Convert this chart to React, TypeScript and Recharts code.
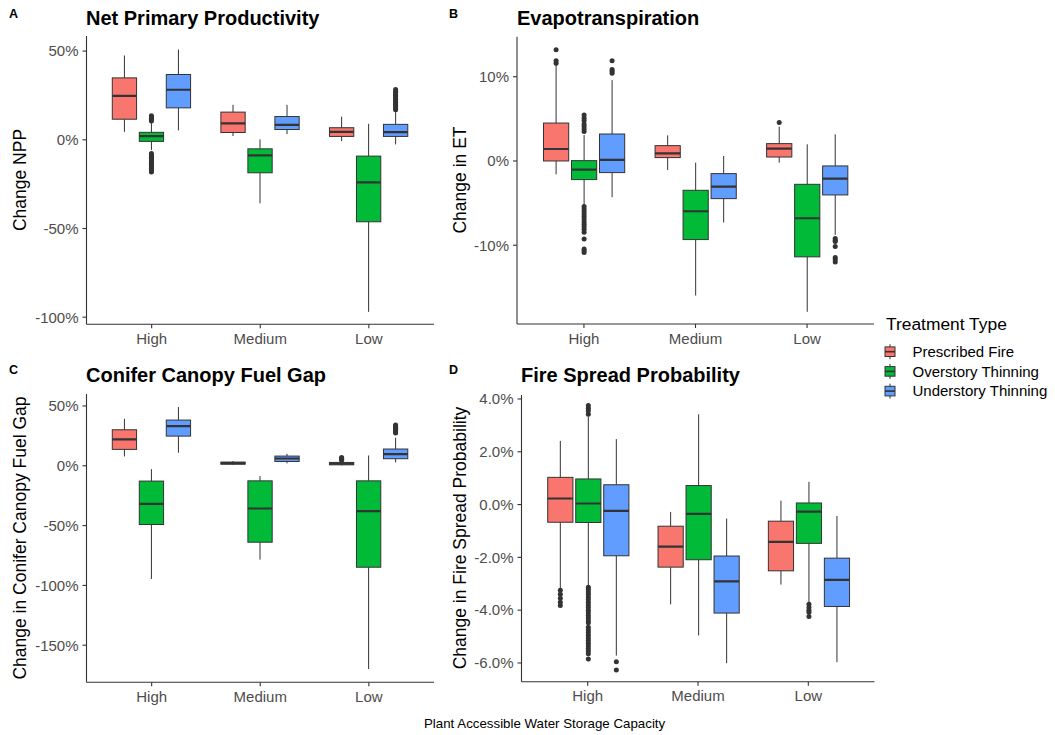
import React from 'react';
import { ComposedChart, Bar, XAxis, YAxis } from 'recharts';

const categories = ['High', 'Medium', 'Low'];
const treatments = ['Prescribed Fire', 'Overstory Thinning', 'Understory Thinning'];
const treatmentColors = ['#F8766D', '#00BA38', '#619CFF'];

// Five-number summaries per category (High, Medium, Low):
// [lower whisker, Q1, median, Q3, upper whisker], in percent change.

// Net Primary Productivity
const nppFire = [[4.5, 11.6, 24.8, 34.9, 47.5], [2.1, 4.1, 9.2, 15.6, 19.7], [-0.75, 1.9, 4.5, 6.8, 13.0]];
const nppOver = [[-5.8, -0.9, 2.1, 4.2, 9.8], [-35.8, -18.6, -8.8, -5.1, 0.2], [-97.0, -46.2, -24.0, -9.2, 9.0]];
const nppUnder = [[5.3, 18.0, 28.2, 36.8, 50.9], [3.2, 5.8, 8.4, 13.1, 19.7], [-2.6, 1.9, 4.3, 8.7, 16.0]];
const nppFireOut = [[], [], []];
const nppOverOut = [
  [10.6, 11.4, 12.2, 13.0, 13.6, -7.7, -8.4, -9.1, -9.8, -10.5, -11.2, -11.9, -12.6, -13.3, -14.0, -14.7, -15.4, -16.1, -16.8, -17.5, -18.1],
  [],
  [],
];
const nppUnderOut = [
  [],
  [],
  [17.0, 17.8, 18.6, 19.4, 20.2, 21.0, 21.8, 22.6, 23.4, 24.2, 25.0, 25.8, 26.6, 27.4, 28.3],
];

// Evapotranspiration
const etFire = [[-1.58, 0.0, 1.42, 4.5, 11.4], [-1.07, 0.4, 0.91, 1.82, 3.04], [-0.2, 0.47, 1.46, 2.06, 4.07]];
const etOver = [[-5.2, -2.21, -1.03, 0.04, 3.08], [-15.97, -9.33, -5.97, -3.48, -0.2], [-17.9, -11.38, -6.8, -2.77, 1.98]];
const etUnder = [[-4.3, -1.38, 0.12, 3.2, 9.6], [-7.31, -4.47, -3.04, -1.5, 0.59], [-8.77, -4.03, -2.09, -0.59, 3.16]];
const etFireOut = [[11.6, 11.9, 13.2], [], [4.58]];
const etOverOut = [
  [3.5, 3.8, 4.1, 4.4, 4.8, 5.1, 5.45, -5.4, -5.7, -6.0, -6.3, -6.6, -6.9, -7.2, -7.5, -7.8, -8.1, -8.45, -9.25, -10.45, -10.65, -10.85],
  [],
  [],
];
const etUnderOut = [[10.4, 10.65, 10.85, 11.9], [], [-9.2, -9.4, -9.57, -10.16, -11.46, -11.7, -12.0]];

// Conifer Canopy Fuel Gap
const gapFire = [[7.8, 13.7, 22.0, 30.1, 39.3], [0.6, 1.3, 2.2, 3.1, 4.0], [0.3, 0.8, 1.7, 2.8, 4.0]];
const gapOver = [[-94.6, -49.1, -31.8, -12.8, -2.8], [-78.4, -63.9, -35.7, -12.6, -8.6], [-169.9, -84.8, -37.9, -12.6, 8.6]];
const gapUnder = [[10.9, 24.8, 33.2, 38.2, 49.1], [2.0, 3.6, 6.1, 8.1, 10.0], [2.8, 5.9, 9.8, 14.0, 23.5]];
const gapFireOut = [[], [], [4.6, 5.4, 6.2, 6.9]];
const gapOverOut = [[], [], []];
const gapUnderOut = [[], [], [27.3, 28.3, 29.3, 30.3, 31.3, 32.3, 33.3, 34.0]];

// Fire Spread Probability
const fspFire = [[-3.19, -0.67, 0.23, 1.03, 2.41], [-3.78, -2.37, -1.59, -0.82, -0.28], [-3.03, -2.51, -1.41, -0.63, 0.15]];
const fspOver = [[-3.06, -0.68, 0.04, 0.97, 3.33], [-4.96, -2.09, -0.35, 0.72, 3.42], [-3.7, -1.47, -0.27, 0.06, 0.86]];
const fspUnder = [[-5.72, -1.94, -0.24, 0.75, 2.48], [-6.01, -4.11, -2.91, -1.95, -0.53], [-5.97, -3.86, -2.85, -2.03, -0.43]];
const fspFireOut = [[-3.25, -3.4, -3.55, -3.7, -3.82], [], []];
const fspOverOut = [
  [3.42, 3.55, 3.65, 3.75, -3.13, -3.22, -3.31, -3.4, -3.5, -3.6, -3.7, -3.8, -3.9, -4.0, -4.1, -4.2, -4.3, -4.4, -4.48, -4.65, -4.75, -4.85, -4.95, -5.05, -5.15, -5.25, -5.35, -5.45, -5.55, -5.65, -5.85],
  [],
  [-3.78, -3.9, -4.0, -4.08, -4.24],
];
const fspUnderOut = [[-5.95, -6.27], [], []];

// Axis ticks
const nppTicks = [-100, -50, 0, 50];
const etTicks = [-10, 0, 10];
const gapTicks = [-150, -100, -50, 0, 50];
const fspTicks = [-6, -4, -2, 0, 2, 4];

type Stat = { box: number[]; out: number[] };
type Row = { category: string; s0: Stat; s1: Stat; s2: Stat };

const seriesKeys = ['s0', 's1', 's2'] as const;

function buildRows(boxes: number[][][], outs: number[][][]): Row[] {
  return categories.map((category, i) => ({
    category,
    s0: { box: boxes[0][i], out: outs[0][i] },
    s1: { box: boxes[1][i], out: outs[1][i] },
    s2: { box: boxes[2][i], out: outs[2][i] },
  }));
}

function extent(st: Stat): [number, number] {
  const all = [...st.box, ...st.out];
  return [Math.min(...all), Math.max(...all)];
}

const INK = '#333333';

// Draws a whole box-and-whisker glyph inside the bar's pixel extent [min, max].
function makeBoxShape(key: 's0' | 's1' | 's2', fill: string, rows: Row[]) {
  return (props: any) => {
    const { x, y, width, height, index } = props;
    const payload: Row = props.payload && props.payload[key] ? props.payload : rows[index];
    const st = payload[key];
    const [lo, hi] = extent(st);
    const top = Math.min(y, y + height);
    const bot = Math.max(y, y + height);
    const px = (v: number) => (hi === lo ? top : top + ((hi - v) / (hi - lo)) * (bot - top));
    const cx = x + width / 2;
    const bw = width * 0.9;
    const [lw, q1, md, q3, uw] = st.box;
    return (
      <g>
        {st.out.map((v, i) => (
          <circle key={i} cx={cx} cy={px(v)} r={2.5} fill={INK} />
        ))}
        <line x1={cx} x2={cx} y1={px(uw)} y2={px(q3)} stroke={INK} strokeWidth={1} />
        <line x1={cx} x2={cx} y1={px(q1)} y2={px(lw)} stroke={INK} strokeWidth={1} />
        <rect x={cx - bw / 2} y={px(q3)} width={bw} height={Math.max(px(q1) - px(q3), 0.5)} fill={fill} stroke={INK} strokeWidth={1} />
        <line x1={cx - bw / 2} x2={cx + bw / 2} y1={px(md)} y2={px(md)} stroke={INK} strokeWidth={2.2} />
      </g>
    );
  };
}

type PanelProps = {
  rows: Row[];
  domain: [number, number];
  ticks: number[];
  fmt: (v: number) => string;
  left: number;
  top: number;
  w: number;
  h: number;
  margin: { top: number; right: number; bottom: number; left: number };
  yWidth: number;
};

function Panel({ rows, domain, ticks, fmt, left, top, w, h, margin, yWidth }: PanelProps) {
  const plotW = w - margin.left - margin.right - yWidth;
  const pad = plotW / 32;
  return (
    <div style={{ position: 'absolute', left, top }}>
      <ComposedChart width={w} height={h} data={rows} margin={margin} barCategoryGap="12.5%" barGap={0}>
        <XAxis
          dataKey="category"
          type="category"
          interval={0}
          padding={{ left: pad, right: pad }}
          height={30}
          tickSize={4}
          tickMargin={5}
          axisLine={{ stroke: INK, strokeWidth: 1.1 }}
          tickLine={{ stroke: INK, strokeWidth: 1.1 }}
          tick={{ fill: '#4D4D4D', fontSize: 15 }}
        />
        <YAxis
          type="number"
          domain={domain}
          ticks={ticks}
          allowDataOverflow
          interval={0}
          width={yWidth}
          tickFormatter={fmt}
          tickSize={4}
          tickMargin={4}
          axisLine={{ stroke: INK, strokeWidth: 1.1 }}
          tickLine={{ stroke: INK, strokeWidth: 1.1 }}
          tick={{ fill: '#4D4D4D', fontSize: 15 }}
        />
        {seriesKeys.map((k, i) => (
          <Bar
            key={k}
            name={treatments[i]}
            dataKey={(row: Row) => extent(row[k])}
            fill={treatmentColors[i]}
            shape={makeBoxShape(k, treatmentColors[i], rows)}
            isAnimationActive={false}
          />
        ))}
      </ComposedChart>
    </div>
  );
}

const pct0 = (v: number) => `${v}%`;
const pct1 = (v: number) => `${v.toFixed(1)}%`;

const nppRows = buildRows([nppFire, nppOver, nppUnder], [nppFireOut, nppOverOut, nppUnderOut]);
const etRows = buildRows([etFire, etOver, etUnder], [etFireOut, etOverOut, etUnderOut]);
const gapRows = buildRows([gapFire, gapOver, gapUnder], [gapFireOut, gapOverOut, gapUnderOut]);
const fspRows = buildRows([fspFire, fspOver, fspUnder], [fspFireOut, fspOverOut, fspUnderOut]);

const panelTitles = ['Net Primary Productivity', 'Evapotranspiration', 'Conifer Canopy Fuel Gap', 'Fire Spread Probability'];
const panelLetters = ['A', 'B', 'C', 'D'];
const yTitles = ['Change NPP', 'Change in ET', 'Change in Conifer Canopy Fuel Gap', 'Change in Fire Spread Probability'];

export default function App() {
  const font = '"Liberation Sans", Arial, Helvetica, sans-serif';
  return (
    <div style={{ position: 'absolute', left: 0, top: 0, width: 1055, height: 735, background: '#fff', fontFamily: font }}>
      <Panel rows={nppRows} domain={[-104, 58.5]} ticks={nppTicks} fmt={pct0} left={0} top={0} w={470} h={360}
        margin={{ top: 36, right: 36, bottom: 5.7, left: 26.5 }} yWidth={60} />
      <Panel rows={etRows} domain={[-19.35, 14.75]} ticks={etTicks} fmt={pct0} left={470} top={0} w={420} h={360}
        margin={{ top: 36.7, right: 16, bottom: 6, left: 7 }} yWidth={40} />
      <Panel rows={gapRows} domain={[-181, 60]} ticks={gapTicks} fmt={pct0} left={0} top={358.3} w={470} h={360}
        margin={{ top: 36, right: 36, bottom: 5.7, left: 26.5 }} yWidth={60} />
      <Panel rows={fspRows} domain={[-6.71, 4.15]} ticks={fspTicks} fmt={pct1} left={470} top={358} w={420} h={360}
        margin={{ top: 37, right: 15.5, bottom: 6.3, left: 6.5 }} yWidth={45} />

      <svg width={1055} height={735} style={{ position: 'absolute', left: 0, top: 0, pointerEvents: 'none' }} fontFamily={font}>
        {/* panel letters */}
        {[[9, 17.5], [449, 17.5], [9, 373.5], [449, 373.5]].map(([x, y], i) => (
          <text key={'l' + i} x={x} y={y} fontSize={12.5} fontWeight="bold" fill="#000">{panelLetters[i]}</text>
        ))}
        {/* panel titles */}
        {[[86, 24.5], [517, 24.5], [86, 382], [521, 382]].map(([x, y], i) => (
          <text key={'t' + i} x={x} y={y} fontSize={20} fontWeight="bold" fill="#000">{panelTitles[i]}</text>
        ))}
        {/* y-axis titles */}
        {[[19.5, 180], [459.5, 180], [19.5, 538], [459.5, 538]].map(([x, y], i) => (
          <text key={'y' + i} x={x} y={y} fontSize={17.5} fill="#000" textAnchor="middle" dominantBaseline="central"
            transform={`rotate(-90 ${x} ${y})`}>{yTitles[i]}</text>
        ))}
        {/* shared x-axis title */}
        <text x={424} y={728} fontSize={13.3} fill="#000">Plant Accessible Water Storage Capacity</text>

        {/* legend */}
        <text x={886} y={330} fontSize={17.4} fill="#000">Treatment Type</text>
        {treatments.map((t, i) => {
          const cy = 351.7 + i * 19.7;
          return (
            <g key={t}>
              <line x1={890} x2={890} y1={cy - 7.5} y2={cy + 7.5} stroke={INK} strokeWidth={1} />
              <rect x={885} y={cy - 4.8} width={10} height={9.6} fill={treatmentColors[i]} stroke={INK} strokeWidth={1} />
              <line x1={885} x2={895} y1={cy} y2={cy} stroke={INK} strokeWidth={1.6} />
              <text x={912.5} y={cy + 5.3} fontSize={15} fill="#000">{t}</text>
            </g>
          );
        })}
      </svg>
    </div>
  );
}
